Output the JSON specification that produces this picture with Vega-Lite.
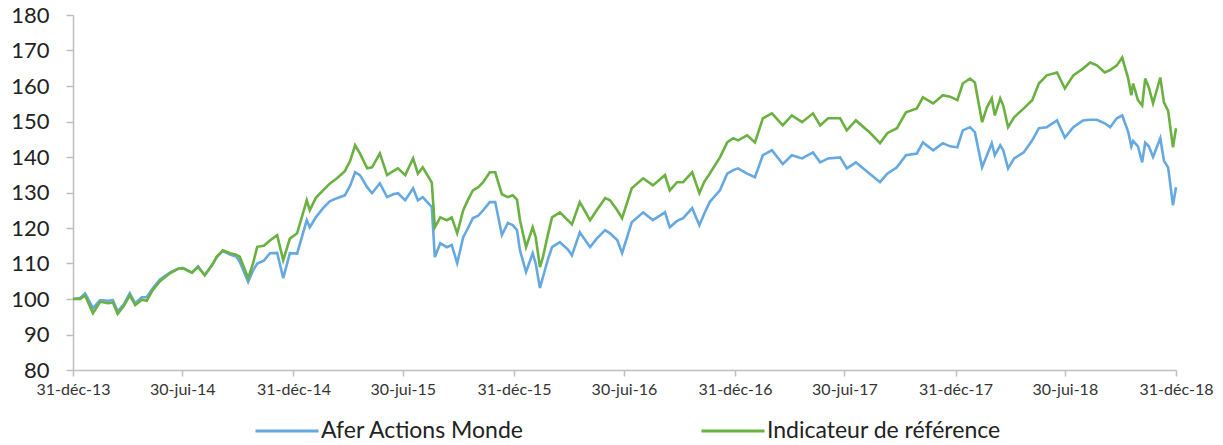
{
  "$schema": "https://vega.github.io/schema/vega-lite/v6.json",
  "autosize": {"type": "none"},
  "width": 1103,
  "height": 355,
  "padding": {"left": 73, "top": 15, "right": 47, "bottom": 75},
  "background": "white",
  "config": {"view": {"stroke": null}, "font": "Lato"},
  "data": {"values": [
    {"d":"2013-12-31","A":100,"I":100},
    {"d":"2014-01-12","A":100.3,"I":100},
    {"d":"2014-01-20","A":101.6,"I":101},
    {"d":"2014-02-02","A":97.4,"I":96},
    {"d":"2014-02-14","A":99.7,"I":99.2},
    {"d":"2014-02-27","A":99.5,"I":98.8},
    {"d":"2014-03-07","A":99.7,"I":99},
    {"d":"2014-03-15","A":96.5,"I":95.8},
    {"d":"2014-03-25","A":98.5,"I":98},
    {"d":"2014-04-04","A":101.6,"I":101},
    {"d":"2014-04-13","A":98.8,"I":98.3},
    {"d":"2014-04-24","A":100.5,"I":99.8},
    {"d":"2014-05-02","A":100.5,"I":99.5},
    {"d":"2014-05-12","A":103,"I":102.5},
    {"d":"2014-05-24","A":105.5,"I":105},
    {"d":"2014-06-10","A":107.5,"I":107.3},
    {"d":"2014-06-23","A":108.5,"I":108.5},
    {"d":"2014-07-01","A":108.7,"I":108.7},
    {"d":"2014-07-16","A":107.4,"I":107.4},
    {"d":"2014-07-26","A":109.2,"I":109},
    {"d":"2014-08-06","A":106.7,"I":106.7},
    {"d":"2014-08-18","A":109.5,"I":109.5},
    {"d":"2014-08-26","A":111.9,"I":111.9},
    {"d":"2014-09-05","A":113.5,"I":113.7},
    {"d":"2014-09-17","A":112.5,"I":112.9},
    {"d":"2014-09-27","A":112,"I":112.5},
    {"d":"2014-10-03","A":110.5,"I":111.9},
    {"d":"2014-10-17","A":104.8,"I":105.9},
    {"d":"2014-10-25","A":108,"I":110},
    {"d":"2014-11-01","A":110,"I":114.7},
    {"d":"2014-11-12","A":110.8,"I":115},
    {"d":"2014-11-22","A":112.9,"I":116.5},
    {"d":"2014-12-04","A":113,"I":118},
    {"d":"2014-12-14","A":105.9,"I":110.9},
    {"d":"2014-12-25","A":112.9,"I":117},
    {"d":"2015-01-06","A":112.8,"I":118.5},
    {"d":"2015-01-22","A":122.2,"I":127.8},
    {"d":"2015-01-27","A":120.2,"I":125},
    {"d":"2015-02-06","A":123,"I":128.5},
    {"d":"2015-02-18","A":125.6,"I":130.6},
    {"d":"2015-03-01","A":127.5,"I":132.5},
    {"d":"2015-03-13","A":128.4,"I":134},
    {"d":"2015-03-26","A":129.2,"I":136},
    {"d":"2015-04-04","A":132,"I":139},
    {"d":"2015-04-12","A":135.7,"I":143.3},
    {"d":"2015-04-20","A":134.9,"I":141},
    {"d":"2015-05-02","A":131.5,"I":136.8},
    {"d":"2015-05-10","A":129.8,"I":137.1},
    {"d":"2015-05-23","A":132.6,"I":141},
    {"d":"2015-06-04","A":128.7,"I":134.9},
    {"d":"2015-06-14","A":129.5,"I":136},
    {"d":"2015-06-22","A":129.8,"I":136.8},
    {"d":"2015-07-04","A":127.8,"I":134.9},
    {"d":"2015-07-17","A":131.2,"I":139.6},
    {"d":"2015-07-25","A":127.8,"I":135.3},
    {"d":"2015-08-02","A":128.7,"I":137.1},
    {"d":"2015-08-17","A":125.9,"I":132.8},
    {"d":"2015-08-22","A":111.8,"I":120.2},
    {"d":"2015-08-31","A":115.7,"I":123},
    {"d":"2015-09-11","A":114.6,"I":122.2},
    {"d":"2015-09-19","A":115.2,"I":123},
    {"d":"2015-09-28","A":110.1,"I":118.5},
    {"d":"2015-10-08","A":117.4,"I":125},
    {"d":"2015-10-16","A":120,"I":128},
    {"d":"2015-10-24","A":122.8,"I":130.6},
    {"d":"2015-11-02","A":123.5,"I":131.5},
    {"d":"2015-11-10","A":125,"I":132.9},
    {"d":"2015-11-21","A":127.3,"I":135.7},
    {"d":"2015-11-30","A":127.3,"I":135.7},
    {"d":"2015-12-11","A":118,"I":129.5},
    {"d":"2015-12-21","A":121.4,"I":128.7},
    {"d":"2015-12-29","A":120.8,"I":129.2},
    {"d":"2016-01-05","A":119.4,"I":128},
    {"d":"2016-01-10","A":113.7,"I":122.2},
    {"d":"2016-01-20","A":107.6,"I":114.6},
    {"d":"2016-01-31","A":112.9,"I":120.2},
    {"d":"2016-02-05","A":110,"I":117.4},
    {"d":"2016-02-12","A":103.1,"I":109},
    {"d":"2016-02-17","A":106.2,"I":111.8},
    {"d":"2016-02-25","A":111,"I":118},
    {"d":"2016-03-03","A":114.6,"I":123},
    {"d":"2016-03-16","A":116,"I":124.4},
    {"d":"2016-03-29","A":114,"I":122.2},
    {"d":"2016-04-05","A":112.3,"I":121},
    {"d":"2016-04-18","A":118.8,"I":127.3},
    {"d":"2016-05-05","A":114.6,"I":122.2},
    {"d":"2016-05-16","A":117,"I":125},
    {"d":"2016-05-30","A":119.4,"I":128.4},
    {"d":"2016-06-07","A":118.5,"I":127.8},
    {"d":"2016-06-19","A":116.6,"I":125},
    {"d":"2016-06-27","A":112.9,"I":122.8},
    {"d":"2016-07-13","A":121.6,"I":131.2},
    {"d":"2016-08-01","A":124.4,"I":134},
    {"d":"2016-08-17","A":122.2,"I":132},
    {"d":"2016-09-06","A":124.4,"I":134.9},
    {"d":"2016-09-14","A":120.2,"I":130.6},
    {"d":"2016-09-26","A":122,"I":132.9},
    {"d":"2016-10-06","A":122.8,"I":132.9},
    {"d":"2016-10-21","A":125.6,"I":135.7},
    {"d":"2016-11-02","A":120.8,"I":129.8},
    {"d":"2016-11-10","A":124,"I":133},
    {"d":"2016-11-19","A":127.3,"I":135.3},
    {"d":"2016-12-06","A":130.6,"I":139.9},
    {"d":"2016-12-18","A":135.3,"I":144.1},
    {"d":"2016-12-28","A":136.3,"I":145.3},
    {"d":"2017-01-05","A":136.8,"I":144.7},
    {"d":"2017-01-20","A":135.3,"I":146.1},
    {"d":"2017-02-02","A":134.3,"I":144.1},
    {"d":"2017-02-15","A":140.5,"I":150.9},
    {"d":"2017-03-02","A":141.9,"I":152.3},
    {"d":"2017-03-20","A":138,"I":148.9},
    {"d":"2017-04-04","A":140.5,"I":151.7},
    {"d":"2017-04-21","A":139.6,"I":149.8},
    {"d":"2017-05-09","A":141.3,"I":152.3},
    {"d":"2017-05-21","A":138.5,"I":148.9},
    {"d":"2017-06-03","A":139.6,"I":150.9},
    {"d":"2017-06-23","A":139.9,"I":150.9},
    {"d":"2017-07-04","A":136.8,"I":147.5},
    {"d":"2017-07-19","A":138.5,"I":150.3},
    {"d":"2017-08-11","A":135.3,"I":146.9},
    {"d":"2017-08-28","A":132.9,"I":143.9},
    {"d":"2017-09-09","A":135.3,"I":146.7},
    {"d":"2017-09-25","A":137.1,"I":148.1},
    {"d":"2017-10-10","A":140.5,"I":152.6},
    {"d":"2017-10-28","A":141,"I":153.7},
    {"d":"2017-11-07","A":144.1,"I":156.8},
    {"d":"2017-11-24","A":141.9,"I":155.1},
    {"d":"2017-12-10","A":143.9,"I":157.4},
    {"d":"2017-12-22","A":143,"I":157},
    {"d":"2018-01-03","A":142.7,"I":156},
    {"d":"2018-01-12","A":147.5,"I":160.7},
    {"d":"2018-01-24","A":148.4,"I":162.1},
    {"d":"2018-02-01","A":147,"I":161},
    {"d":"2018-02-13","A":137.1,"I":149.8},
    {"d":"2018-02-21","A":140.5,"I":154},
    {"d":"2018-03-01","A":143.9,"I":156.5},
    {"d":"2018-03-06","A":140.5,"I":151.7},
    {"d":"2018-03-15","A":143.3,"I":156.5},
    {"d":"2018-03-20","A":141.9,"I":154.5},
    {"d":"2018-03-28","A":136.8,"I":148.4},
    {"d":"2018-04-07","A":139.6,"I":151.2},
    {"d":"2018-04-23","A":141.3,"I":153.7},
    {"d":"2018-05-07","A":144.7,"I":156},
    {"d":"2018-05-18","A":148.1,"I":160.7},
    {"d":"2018-05-31","A":148.4,"I":163},
    {"d":"2018-06-17","A":150.3,"I":163.8},
    {"d":"2018-06-30","A":145.5,"I":159.3},
    {"d":"2018-07-14","A":148.4,"I":163},
    {"d":"2018-07-30","A":150.3,"I":164.9},
    {"d":"2018-08-11","A":150.5,"I":166.6},
    {"d":"2018-08-22","A":150.5,"I":165.8},
    {"d":"2018-09-04","A":149.5,"I":163.8},
    {"d":"2018-09-13","A":148.4,"I":164.5},
    {"d":"2018-09-24","A":150.9,"I":165.8},
    {"d":"2018-10-03","A":151.7,"I":168},
    {"d":"2018-10-13","A":147,"I":162},
    {"d":"2018-10-18","A":143,"I":157.4},
    {"d":"2018-10-21","A":144.5,"I":160.7},
    {"d":"2018-10-29","A":143,"I":156},
    {"d":"2018-11-05","A":138.5,"I":154.5},
    {"d":"2018-11-10","A":144,"I":162.1},
    {"d":"2018-11-16","A":143,"I":159.6},
    {"d":"2018-11-23","A":140,"I":155.1},
    {"d":"2018-12-05","A":145.3,"I":162.4},
    {"d":"2018-12-11","A":139,"I":155.4},
    {"d":"2018-12-18","A":137,"I":153},
    {"d":"2018-12-26","A":126.4,"I":142.7},
    {"d":"2018-12-31","A":131.5,"I":148.1}
  ]},
  "transform": [
    {"fold": ["A", "I"], "as": ["k", "v"]},
    {"calculate": "datum.k === 'A' ? 'Afer Actions Monde' : 'Indicateur de référence'", "as": "serie"}
  ],
  "mark": {"type": "line", "strokeWidth": 2.6, "interpolate": "linear"},
  "encoding": {
    "x": {
      "field": "d", "type": "temporal",
      "scale": {"domain": [{"year": 2013, "month": 12, "date": 31}, {"year": 2018, "month": 12, "date": 31}], "nice": false},
      "axis": {
        "title": null, "grid": false,
        "values": [
          {"year": 2013, "month": 12, "date": 31},
          {"year": 2014, "month": 6, "date": 30},
          {"year": 2014, "month": 12, "date": 31},
          {"year": 2015, "month": 6, "date": 30},
          {"year": 2015, "month": 12, "date": 31},
          {"year": 2016, "month": 6, "date": 30},
          {"year": 2016, "month": 12, "date": 31},
          {"year": 2017, "month": 6, "date": 30},
          {"year": 2017, "month": 12, "date": 31},
          {"year": 2018, "month": 6, "date": 30},
          {"year": 2018, "month": 12, "date": 31}
        ],
        "labelExpr": "date(datum.value) + '-' + (month(datum.value) == 11 ? 'déc' : 'jui') + '-' + timeFormat(datum.value, '%y')",
        "labelFontSize": 16, "labelColor": "#333333", "labelPadding": 5,
        "labelOverlap": false, "labelFlush": false,
        "domainColor": "#bfbfbf", "domainWidth": 1.5,
        "tickColor": "#bfbfbf", "tickWidth": 1.5, "tickSize": 6
      }
    },
    "y": {
      "field": "v", "type": "quantitative",
      "scale": {"domain": [80, 180], "nice": false, "zero": false},
      "axis": {
        "title": null, "grid": false,
        "values": [80, 90, 100, 110, 120, 130, 140, 150, 160, 170, 180],
        "labelFontSize": 22, "labelColor": "#222222", "labelPadding": 17,
        "domainColor": "#bfbfbf", "domainWidth": 1.5,
        "tickColor": "#bfbfbf", "tickWidth": 1.5, "tickSize": 7
      }
    },
    "color": {
      "field": "serie", "type": "nominal",
      "scale": {"domain": ["Afer Actions Monde", "Indicateur de référence"], "range": ["#65a9e0", "#6ab142"]},
      "legend": {
        "title": null, "orient": "none", "direction": "horizontal",
        "legendX": 181, "legendY": 383,
        "symbolType": "stroke", "symbolSize": 3969, "symbolStrokeWidth": 3,
        "labelFontSize": 23, "labelColor": "#222222", "labelOffset": 1,
        "columnPadding": 170, "labelLimit": 400
      }
    }
  }
}
